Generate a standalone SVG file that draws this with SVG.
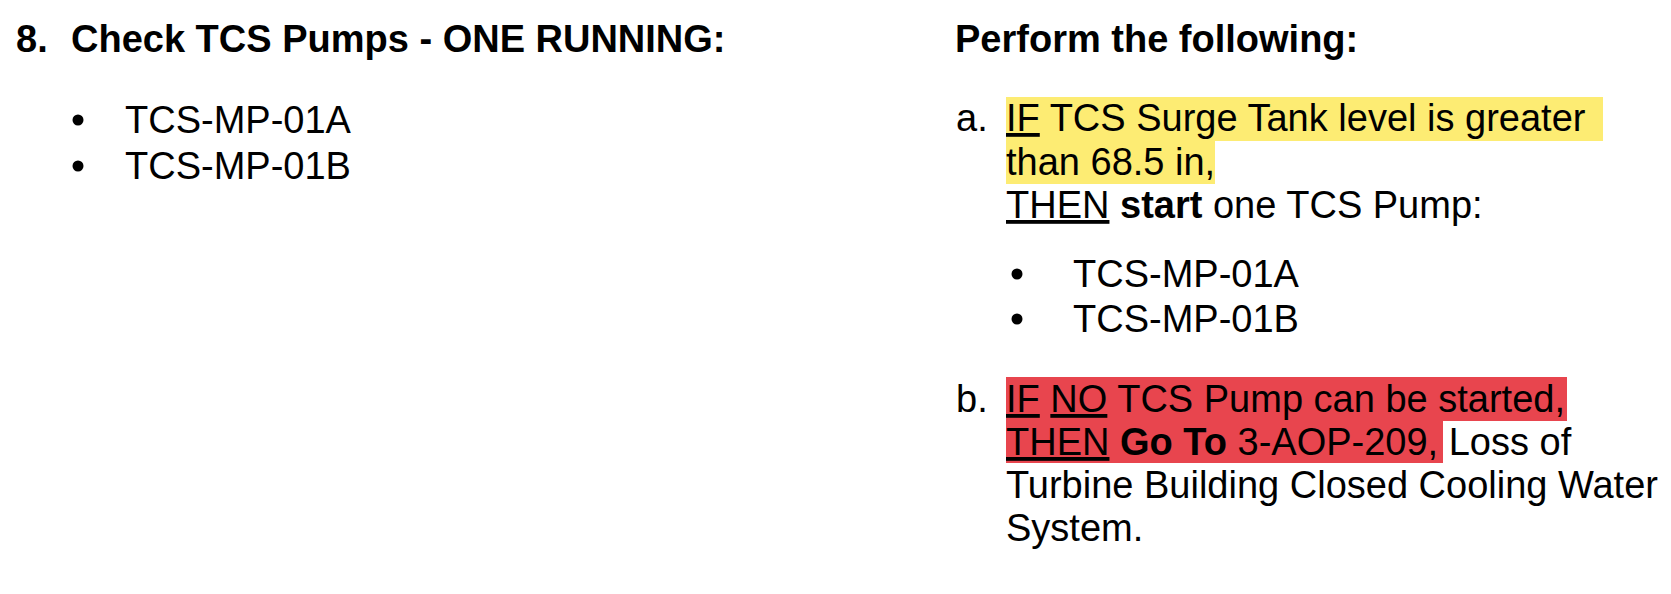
<svg xmlns="http://www.w3.org/2000/svg" width="1671" height="594" viewBox="0 0 1671 594">
<style>
text{font-family:"Liberation Sans",Arial,sans-serif;font-size:38px;fill:#000}
.b{font-weight:bold}
.u{text-decoration:underline}
</style>
<rect width="1671" height="594" fill="#fff"/>
<g id="step8">
<text x="16" y="52" class="b">8.</text>
<text x="71" y="52" class="b">Check TCS Pumps - ONE RUNNING:</text>
<circle cx="78" cy="120" r="5.5"/>
<circle cx="78" cy="166" r="5.5"/>
<text x="125" y="133">TCS-MP-01A</text>
<text x="125" y="179">TCS-MP-01B</text>
</g>
<g id="response">
<text x="955" y="52" class="b">Perform the following:</text>
</g>
<g id="stepA">
<rect x="1006" y="97" width="597" height="44" fill="#fdec73"/>
<rect x="1006" y="141" width="209" height="43" fill="#fdec73"/>
<text x="956" y="131">a.</text>
<text x="1006" y="131"><tspan class="u">IF</tspan> TCS Surge Tank level is greater</text>
<text x="1006" y="175">than 68.5 in,</text>
<text x="1006" y="218"><tspan class="u">THEN</tspan> <tspan class="b">start</tspan> one TCS Pump:</text>
<circle cx="1017" cy="274" r="5.5"/>
<circle cx="1017" cy="319" r="5.5"/>
<text x="1073" y="287">TCS-MP-01A</text>
<text x="1073" y="332">TCS-MP-01B</text>
</g>
<g id="stepB">
<rect x="1006" y="377" width="561" height="44" fill="#e8454e"/>
<rect x="1006" y="421" width="437" height="42" fill="#e8454e"/>
<text x="956" y="412">b.</text>
<text x="1006" y="412"><tspan class="u">IF</tspan> <tspan class="u">NO</tspan> TCS Pump can be started,</text>
<text x="1006" y="455"><tspan class="u">THEN</tspan> <tspan class="b">Go To</tspan> 3-AOP-209, Loss of</text>
<text x="1006" y="498">Turbine Building Closed Cooling Water</text>
<text x="1006" y="541">System.</text>
</g>
<g id="connectors"/>
</svg>
